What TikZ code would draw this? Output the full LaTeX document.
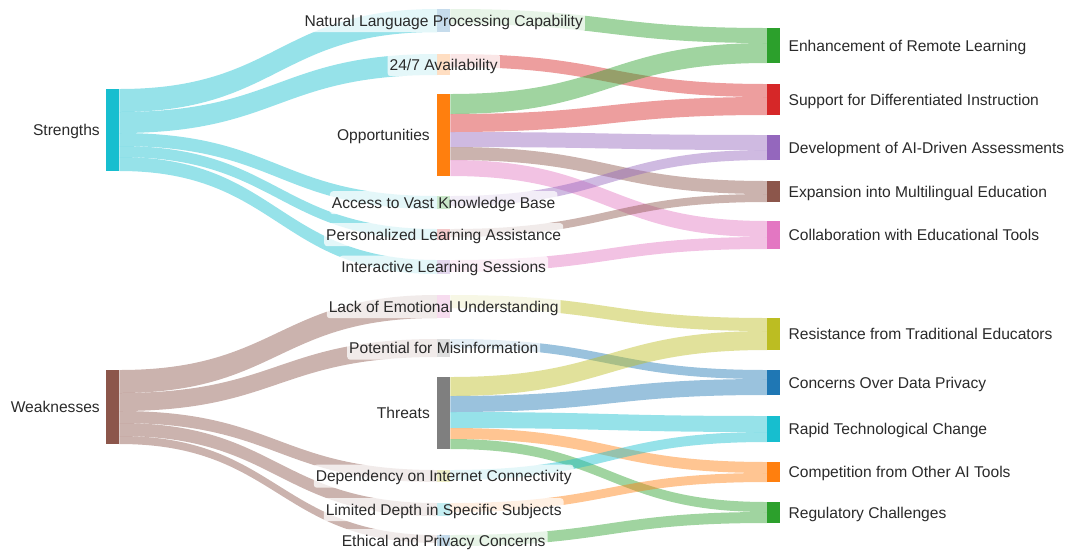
\documentclass[tikz,border=0pt]{standalone}
\usepackage{fontspec}
\setmainfont{Liberation Sans}
\usetikzlibrary{calc,positioning}
\definecolor{Blue}{HTML}{1F77B4}
\definecolor{Orange}{HTML}{FF7F0E}
\definecolor{Green}{HTML}{2CA02C}
\definecolor{Red}{HTML}{D62728}
\definecolor{Purple}{HTML}{9467BD}
\definecolor{Brown}{HTML}{8C564B}
\definecolor{Pink}{HTML}{E377C2}
\definecolor{Grey}{HTML}{7F7F7F}
\definecolor{Olive}{HTML}{BCBD22}
\definecolor{Cyan}{HTML}{17BECF}
\definecolor{Ink}{HTML}{2A2A2A}

% source, top, bottom, target, top, bottom, colour (offsets from the node tops)
\newcommand{\ribbon}[7]{%
  \fill[#7,fill opacity=0.45] ($(#1.north east)+(0,#2)$) .. controls +(159,0) and +(-159,0) .. ($(#4.north west)+(0,#5)$)
    -- ($(#4.north west)+(0,#6)$) .. controls +(-159,0) and +(159,0) .. ($(#1.north east)+(0,#3)$) -- cycle;}

\tikzset{
  bar/.style={anchor=north west,inner sep=0pt,minimum width=13pt,minimum height=#1},
  lbl/.style={font=\fontsize{15.6}{18}\selectfont,text=Ink,text height=12.5pt,text depth=1.5pt,inner sep=2pt},
  tag/.style={lbl,inner ysep=4.5pt,fill=white,fill opacity=0.75,text opacity=1,rounded corners=3pt}
}

\begin{document}
\begin{tikzpicture}[x=1pt,y=-1pt]
  \useasboundingbox (0,0) rectangle (1066,550);
  % first column
  \node[bar=82pt,fill=Cyan] (strengths) at (106,89) {};
  \node[bar=74pt,fill=Brown] (weakness) at (106,370) {};
  % middle column
  \node[bar=23pt,fill=Blue] (nlp) at (437,9) {};
  \node[bar=21pt,fill=Orange] (avail) at (437,54) {};
  \node[bar=82pt,fill=Orange] (opp) at (437,94) {};
  \node[bar=13pt,fill=Green] (access) at (437,196) {};
  \node[bar=11pt,fill=Red] (personal) at (437,229) {};
  \node[bar=14pt,fill=Purple] (interact) at (437,260) {};
  \node[bar=23pt,fill=Pink] (lack) at (437,295) {};
  \node[bar=18pt,fill=Grey] (misinfo) at (437,339) {};
  \node[bar=72pt,fill=Grey] (threats) at (437,377) {};
  \node[bar=12pt,fill=Olive] (depend) at (437,470) {};
  \node[bar=13pt,fill=Cyan] (depth) at (437,503) {};
  \node[bar=11pt,fill=Blue] (ethical) at (437,535) {};
  % last column
  \node[bar=35pt,fill=Green] (remote) at (767,28) {};
  \node[bar=31pt,fill=Red] (diff) at (767,84) {};
  \node[bar=25pt,fill=Purple] (assess) at (767,135) {};
  \node[bar=21pt,fill=Brown] (multi) at (767,181) {};
  \node[bar=28pt,fill=Pink] (collab) at (767,221) {};
  \node[bar=32pt,fill=Olive] (resist) at (767,318) {};
  \node[bar=25pt,fill=Blue] (privacy) at (767,370) {};
  \node[bar=26pt,fill=Cyan] (rapid) at (767,416) {};
  \node[bar=20pt,fill=Orange] (compet) at (767,462) {};
  \node[bar=21pt,fill=Green] (regul) at (767,502) {};

  % strengths and opportunities
  \ribbon{strengths}{0}{23}{nlp}{0}{23}{Cyan}
  \ribbon{strengths}{23}{44}{avail}{0}{21}{Cyan}
  \ribbon{strengths}{44}{57}{access}{0}{13}{Cyan}
  \ribbon{strengths}{57}{68}{personal}{0}{11}{Cyan}
  \ribbon{strengths}{68}{82}{interact}{0}{14}{Cyan}
  \ribbon{nlp}{0}{15}{remote}{0}{15}{Green}
  \ribbon{avail}{0}{13}{diff}{0}{13}{Red}
  \ribbon{opp}{0}{20}{remote}{15}{35}{Green}
  \ribbon{opp}{20}{38}{diff}{13}{31}{Red}
  \ribbon{opp}{38}{53}{assess}{0}{15}{Purple}
  \ribbon{opp}{53}{66}{multi}{0}{13}{Brown}
  \ribbon{opp}{66}{82}{collab}{0}{16}{Pink}
  \ribbon{access}{0}{10}{assess}{15}{25}{Purple}
  \ribbon{personal}{0}{8}{multi}{13}{21}{Brown}
  \ribbon{interact}{0}{12}{collab}{16}{28}{Pink}
  % weaknesses and threats
  \ribbon{weakness}{0}{23}{lack}{0}{23}{Brown}
  \ribbon{weakness}{23}{41}{misinfo}{0}{18}{Brown}
  \ribbon{weakness}{41}{53}{depend}{0}{12}{Brown}
  \ribbon{weakness}{53}{66}{depth}{0}{13}{Brown}
  \ribbon{weakness}{66}{74}{ethical}{0}{8}{Brown}
  \ribbon{lack}{0}{13}{resist}{0}{13}{Olive}
  \ribbon{misinfo}{0}{9}{privacy}{0}{9}{Blue}
  \ribbon{threats}{0}{19}{resist}{13}{32}{Olive}
  \ribbon{threats}{19}{35}{privacy}{9}{25}{Blue}
  \ribbon{threats}{35}{51}{rapid}{0}{16}{Cyan}
  \ribbon{threats}{51}{62}{compet}{0}{11}{Orange}
  \ribbon{threats}{62}{72}{regul}{0}{10}{Green}
  \ribbon{depend}{0}{10}{rapid}{16}{26}{Cyan}
  \ribbon{depth}{0}{9}{compet}{11}{20}{Orange}
  \ribbon{ethical}{0}{11}{regul}{10}{21}{Green}

  % labels
  \node[lbl,left=4pt of strengths] {Strengths};
  \node[lbl,left=4pt of weakness] {Weaknesses};
  \node[lbl,left=5pt of opp] {Opportunities};
  \node[lbl,left=5pt of threats] {Threats};
  \node[tag] at (nlp) {Natural Language Processing Capability};
  \node[tag] at (avail) {24/7 Availability};
  \node[tag] at (access) {Access to Vast Knowledge Base};
  \node[tag] at (personal) {Personalized Learning Assistance};
  \node[tag] at (interact) {Interactive Learning Sessions};
  \node[tag] at (lack) {Lack of Emotional Understanding};
  \node[tag] at (misinfo) {Potential for Misinformation};
  \node[tag] at (depend) {Dependency on Internet Connectivity};
  \node[tag] at (depth) {Limited Depth in Specific Subjects};
  \node[tag] at (ethical) {Ethical and Privacy Concerns};
  \node[lbl,right=6pt of remote] {Enhancement of Remote Learning};
  \node[lbl,right=6pt of diff] {Support for Differentiated Instruction};
  \node[lbl,right=6pt of assess] {Development of AI-Driven Assessments};
  \node[lbl,right=6pt of multi] {Expansion into Multilingual Education};
  \node[lbl,right=6pt of collab] {Collaboration with Educational Tools};
  \node[lbl,right=6pt of resist] {Resistance from Traditional Educators};
  \node[lbl,right=6pt of privacy] {Concerns Over Data Privacy};
  \node[lbl,right=6pt of rapid] {Rapid Technological Change};
  \node[lbl,right=6pt of compet] {Competition from Other AI Tools};
  \node[lbl,right=6pt of regul] {Regulatory Challenges};
\end{tikzpicture}
\end{document}
